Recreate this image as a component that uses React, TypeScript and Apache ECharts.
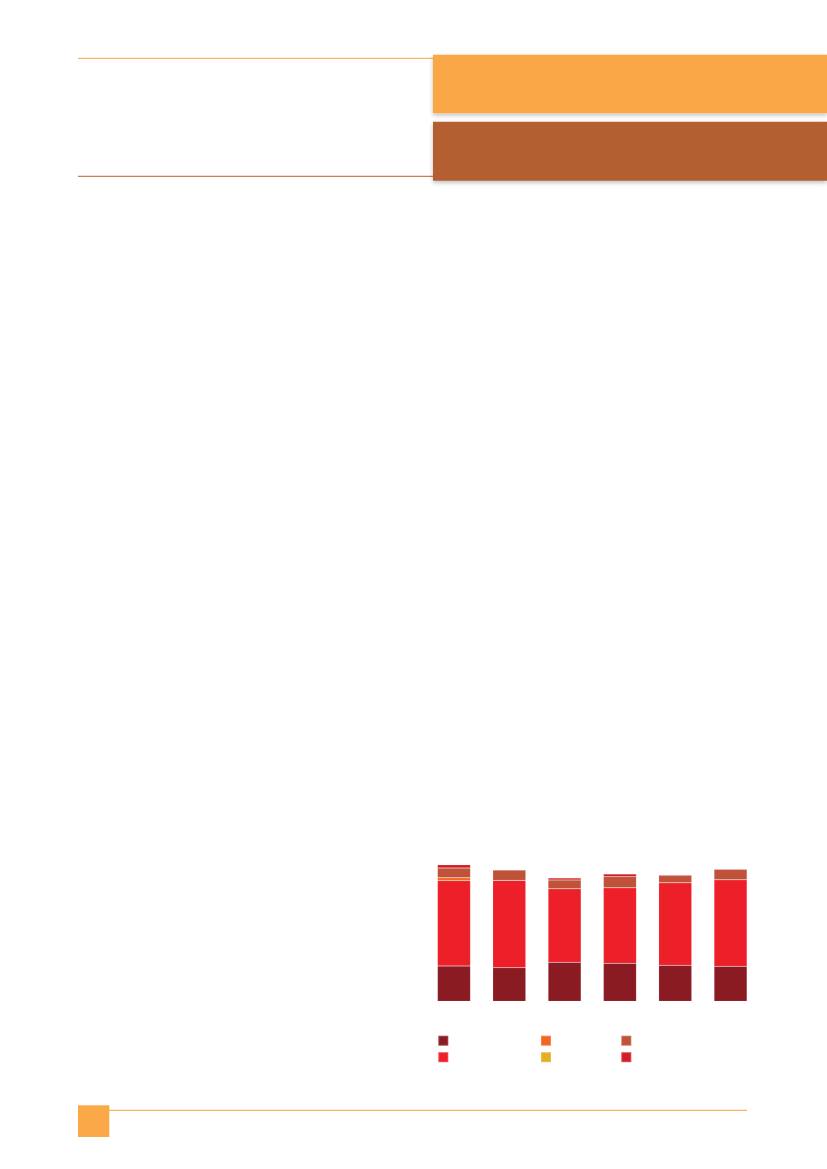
import * as echarts from "echarts";
import { useEffect, useRef } from "react";

// six columns, values (no axis labels shown)
const categories = ["1", "2", "3", "4", "5", "6"];
const darkValues = [35.3, 33.6, 39.0, 38.0, 36.0, 35.0];
const redValues = [85.3, 87.4, 73.6, 75.6, 82.6, 86.6];
const orangeValues = [3.0, 0, 0, 0, 0, 0];
const yellowValues = [0, 0, 0, 0, 0, 0];
const brownValues = [9.7, 10.3, 8.7, 11.0, 7.0, 10.4];
const crimsonValues = [3.3, 0, 2.0, 2.7, 1.0, 0];

const seriesDefs = [
	{ name: "s1", data: darkValues, color: "#8a1b23" },
	{ name: "s2", data: redValues, color: "#ed1f28" },
	{ name: "s3", data: orangeValues, color: "#f26724" },
	{ name: "s4", data: yellowValues, color: "#e3b021" },
	{ name: "s5", data: brownValues, color: "#bf5238" },
	{ name: "s6", data: crimsonValues, color: "#d21f27" }
];

const legendCols = [
	{ left: 437.3, names: ["s1", "s2"] },
	{ left: 540, names: ["s3", "s4"] },
	{ left: 620.3, names: ["s5", "s6"] }
];

export default function App() {
	const chartRef = useRef<HTMLDivElement>(null);

	useEffect(() => {
		if (!chartRef.current) return;
		document.body.style.margin = "0";

		const chart = echarts.init(chartRef.current, null, { renderer: "svg" });

		const boxShadow = { shadowBlur: 4, shadowOffsetY: 2, shadowColor: "rgba(0,0,0,0.25)" };

		chart.setOption({
			animation: false,
			grid: { left: 426.3, top: 861.3, width: 331.9, height: 140 },
			xAxis: { type: "category", data: categories, show: false },
			yAxis: { type: "value", min: 0, max: 140, show: false },
			legend: legendCols.map(col => ({
				orient: "vertical",
				left: col.left,
				top: 1034.7,
				padding: 0,
				itemWidth: 10,
				itemHeight: 10,
				itemGap: 4.5,
				icon: "rect",
				selectedMode: false,
				data: col.names,
				formatter: () => "",
				textStyle: { fontSize: 8, lineHeight: 10 }
			})),
			series: seriesDefs.map(s => ({
				name: s.name,
				type: "bar",
				stack: "total",
				barWidth: 33,
				data: s.data,
				itemStyle: { color: s.color, borderColor: "rgba(255,255,255,0.2)", borderWidth: 0.5 }
			})),
			graphic: [
				// header rules and boxes
				{ type: "line", shape: { x1: 78, y1: 58.3, x2: 433, y2: 58.3 }, style: { stroke: "#f7a440", lineWidth: 1 } },
				{ type: "line", shape: { x1: 78, y1: 176.3, x2: 433, y2: 176.3 }, style: { stroke: "#b85f30", lineWidth: 1 } },
				{ type: "rect", shape: { x: 433, y: 54.7, width: 394, height: 58.6 }, style: { fill: "#f9a747", ...boxShadow } },
				{ type: "rect", shape: { x: 433, y: 121.7, width: 394, height: 59 }, style: { fill: "#b45f33", ...boxShadow } },
				// footer rule and page square
				{ type: "line", shape: { x1: 109, y1: 1110.3, x2: 747, y2: 1110.3 }, style: { stroke: "#f7a33a", lineWidth: 1 } },
				{ type: "rect", shape: { x: 78, y: 1105.3, width: 31.3, height: 31.7 }, style: { fill: "#fba848" } }
			]
		});

		return () => chart.dispose();
	}, []);

	return <div ref={chartRef} style={{ position: "absolute", left: 0, top: 0, width: 827, height: 1169 }} />;
}
